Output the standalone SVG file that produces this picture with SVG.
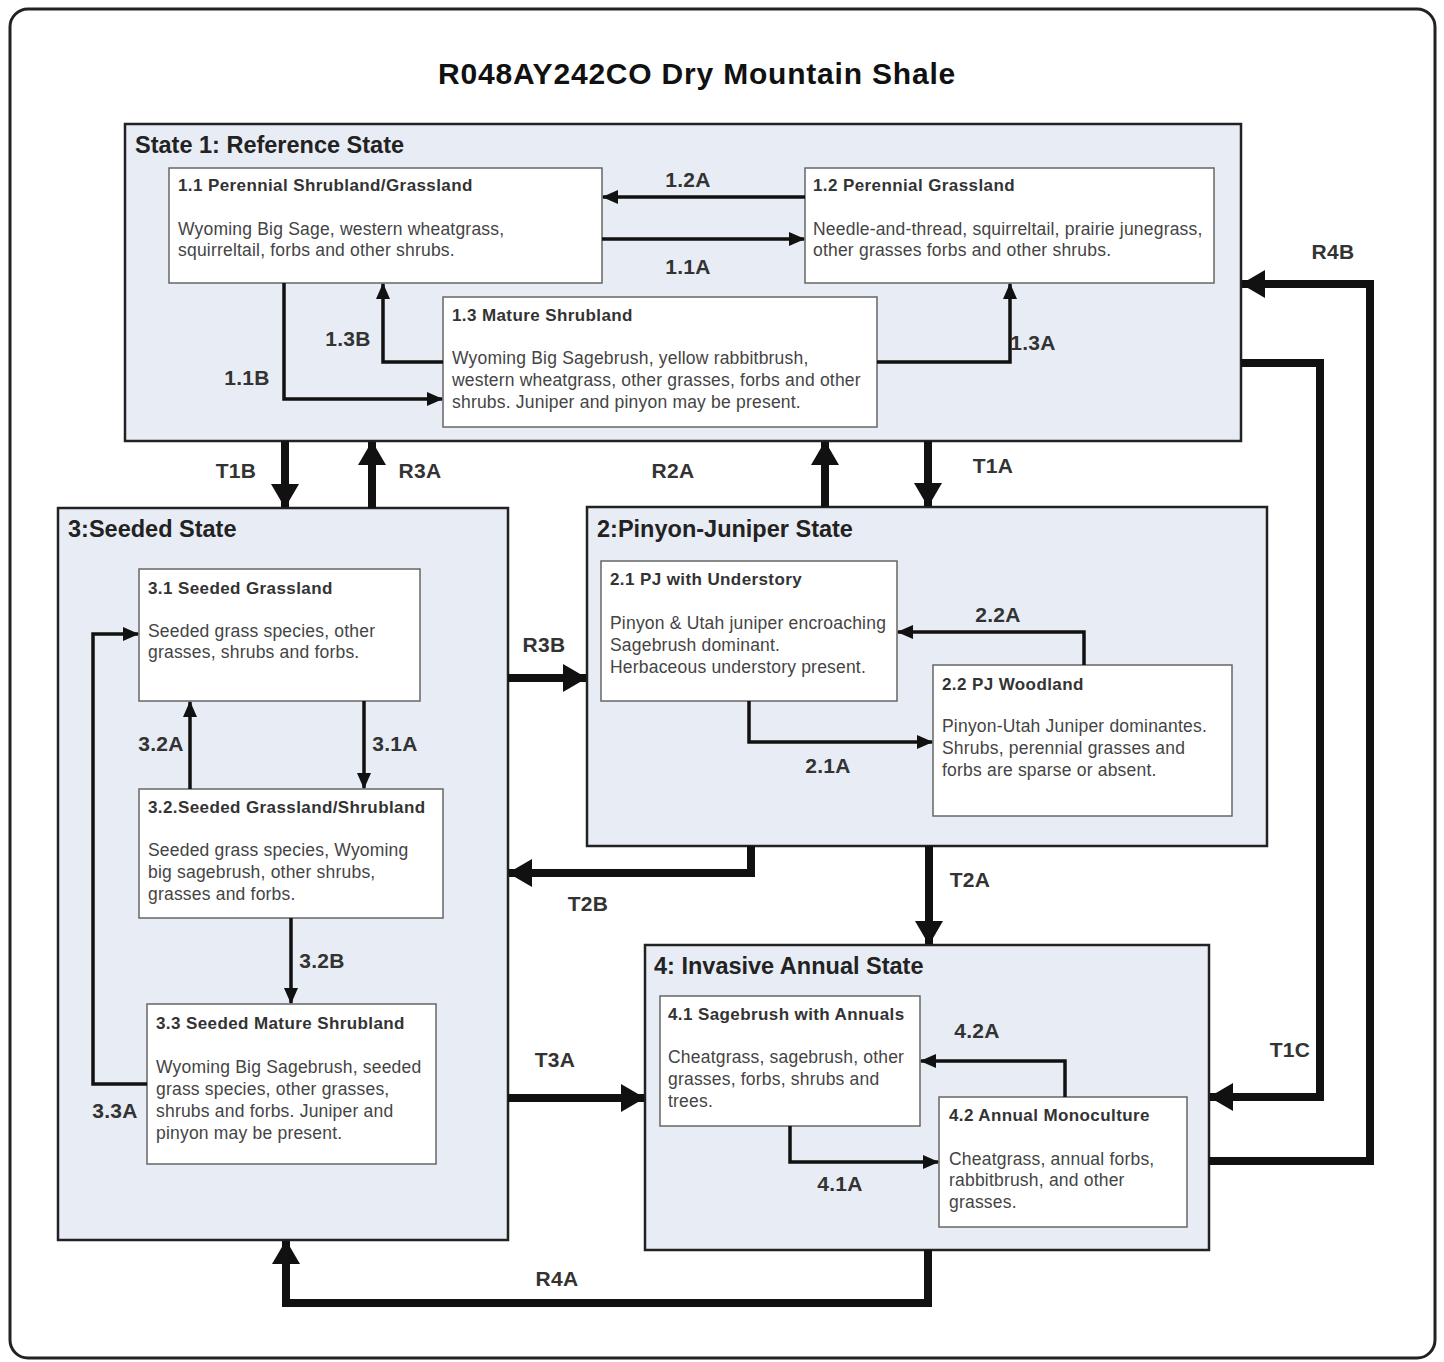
<svg xmlns="http://www.w3.org/2000/svg" width="1444" height="1362" viewBox="0 0 1444 1362">
<defs>
<marker id="ah" viewBox="0 0 16 14" refX="15" refY="7" markerWidth="16" markerHeight="14" markerUnits="userSpaceOnUse" orient="auto"><path d="M0,0 L16,7 L0,14 Z" fill="#111"/></marker>
<marker id="ahb" viewBox="0 0 24 28" refX="23" refY="14" markerWidth="24" markerHeight="28" markerUnits="userSpaceOnUse" orient="auto"><path d="M0,0 L24,14 L0,28 Z" fill="#111"/></marker>
</defs>
<style>
.title{font-family:"Liberation Sans",Arial,sans-serif;font-weight:bold;font-size:30px;letter-spacing:0.8px;fill:#111}
.st{fill:#e8ecf4;stroke:#222;stroke-width:2.5}
.stt{font-family:"Liberation Sans",Arial,sans-serif;font-weight:bold;font-size:23.5px;fill:#222}
.nb{fill:#fff;stroke:#666;stroke-width:1.5}
.nt{font-family:"Liberation Sans",Arial,sans-serif;font-weight:bold;font-size:17px;letter-spacing:0.4px;fill:#333}
.bt{font-family:"Liberation Sans",Arial,sans-serif;font-size:17.5px;letter-spacing:0.2px;fill:#444}
.lb{font-family:"Liberation Sans",Arial,sans-serif;font-weight:bold;font-size:21px;letter-spacing:0.3px;fill:#333;text-anchor:middle}
.c{fill:none;stroke:#111;stroke-width:3.5;marker-end:url(#ah)}
.cb{fill:none;stroke:#111;stroke-width:8;marker-end:url(#ahb)}
</style>
<rect x="0" y="0" width="1444" height="1362" fill="#fff"/>
<rect x="10" y="9" width="1425" height="1349" rx="18" fill="#fff" stroke="#222" stroke-width="3"/>
<text class="title" x="697" y="84" text-anchor="middle">R048AY242CO Dry Mountain Shale</text>

<g id="state1">
<rect class="st" x="125" y="124" width="1116" height="317"/>
<text class="stt" x="135" y="153">State 1: Reference State</text>
</g>
<g id="state3">
<rect class="st" x="58" y="508" width="450" height="732"/>
<text class="stt" x="68" y="537">3:Seeded State</text>
</g>
<g id="state2">
<rect class="st" x="587" y="507" width="680" height="339"/>
<text class="stt" x="597" y="537">2:Pinyon-Juniper State</text>
</g>
<g id="state4">
<rect class="st" x="645" y="945" width="564" height="305"/>
<text class="stt" x="654" y="974">4: Invasive Annual State</text>
</g>

<g id="n11">
<rect class="nb" x="169" y="168" width="433" height="115"/>
<text class="nt" x="178" y="191">1.1 Perennial Shrubland/Grassland</text>
<text class="bt" x="178" y="235">Wyoming Big Sage, western wheatgrass,</text>
<text class="bt" x="178" y="256">squirreltail, forbs and other  shrubs.</text>
</g>
<g id="n12">
<rect class="nb" x="805" y="168" width="409" height="115"/>
<text class="nt" x="813" y="191">1.2 Perennial Grassland</text>
<text class="bt" x="813" y="235">Needle-and-thread, squirreltail, prairie junegrass,</text>
<text class="bt" x="813" y="256">other grasses forbs and other  shrubs.</text>
</g>
<g id="n13">
<rect class="nb" x="443" y="297" width="434" height="130"/>
<text class="nt" x="452" y="321">1.3 Mature Shrubland</text>
<text class="bt" x="452" y="364">Wyoming Big Sagebrush, yellow rabbitbrush,</text>
<text class="bt" x="452" y="386">western wheatgrass, other grasses, forbs and other</text>
<text class="bt" x="452" y="408">shrubs. Juniper and pinyon may be present.</text>
</g>

<g id="n31">
<rect class="nb" x="139" y="569" width="281" height="132"/>
<text class="nt" x="148" y="594">3.1 Seeded Grassland</text>
<text class="bt" x="148" y="637">Seeded grass species, other</text>
<text class="bt" x="148" y="658">grasses, shrubs and forbs.</text>
</g>
<g id="n32">
<rect class="nb" x="139" y="789" width="304" height="129"/>
<text class="nt" x="148" y="813">3.2.Seeded Grassland/Shrubland</text>
<text class="bt" x="148" y="856">Seeded grass species, Wyoming</text>
<text class="bt" x="148" y="878">big sagebrush, other shrubs,</text>
<text class="bt" x="148" y="900">grasses and forbs.</text>
</g>
<g id="n33">
<rect class="nb" x="147" y="1004" width="289" height="160"/>
<text class="nt" x="156" y="1029">3.3 Seeded Mature Shrubland</text>
<text class="bt" x="156" y="1073">Wyoming Big Sagebrush, seeded</text>
<text class="bt" x="156" y="1095">grass species, other grasses,</text>
<text class="bt" x="156" y="1117">shrubs and forbs.  Juniper and</text>
<text class="bt" x="156" y="1139">pinyon may be present.</text>
</g>

<g id="n21">
<rect class="nb" x="601" y="561" width="296" height="140"/>
<text class="nt" x="610" y="585">2.1 PJ with Understory</text>
<text class="bt" x="610" y="629">Pinyon &amp; Utah juniper encroaching</text>
<text class="bt" x="610" y="651">Sagebrush dominant.</text>
<text class="bt" x="610" y="673">Herbaceous understory  present.</text>
</g>
<g id="n22">
<rect class="nb" x="933" y="665" width="299" height="151"/>
<text class="nt" x="942" y="690">2.2 PJ Woodland</text>
<text class="bt" x="942" y="732">Pinyon-Utah Juniper dominantes.</text>
<text class="bt" x="942" y="754">Shrubs, perennial grasses and</text>
<text class="bt" x="942" y="776">forbs are sparse or absent.</text>
</g>

<g id="n41">
<rect class="nb" x="660" y="996" width="260" height="130"/>
<text class="nt" x="668" y="1020">4.1 Sagebrush with Annuals</text>
<text class="bt" x="668" y="1063">Cheatgrass, sagebrush, other</text>
<text class="bt" x="668" y="1085">grasses, forbs, shrubs and</text>
<text class="bt" x="668" y="1107">trees.</text>
</g>
<g id="n42">
<rect class="nb" x="939" y="1097" width="248" height="130"/>
<text class="nt" x="949" y="1121">4.2 Annual Monoculture</text>
<text class="bt" x="949" y="1165">Cheatgrass, annual forbs,</text>
<text class="bt" x="949" y="1186">rabbitbrush, and other</text>
<text class="bt" x="949" y="1208">grasses.</text>
</g>

<g id="connectors">
<path class="c" d="M805,197 H603"/>
<path class="c" d="M602,239 H804"/>
<path class="c" d="M443,362 H383 V284"/>
<path class="c" d="M284,283 V399 H442"/>
<path class="c" d="M877,362 H1010 V284"/>
<path class="c" d="M364,701 V788"/>
<path class="c" d="M190,789 V702"/>
<path class="c" d="M291,918 V1003"/>
<path class="c" d="M147,1084 H93 V634 H138"/>
<path class="c" d="M1084,665 V632 H898"/>
<path class="c" d="M749,701 V742 H932"/>
<path class="c" d="M1065,1097 V1061 H921"/>
<path class="c" d="M790,1126 V1162 H938"/>

<path class="cb" d="M285,441 V507"/>
<path class="cb" d="M372,508 V442"/>
<path class="cb" d="M825,507 V442"/>
<path class="cb" d="M928,441 V506"/>
<path class="cb" d="M508,678 H586"/>
<path class="cb" d="M751,846 V873 H509"/>
<path class="cb" d="M929,846 V944"/>
<path class="cb" d="M508,1098 H644"/>
<path class="cb" d="M928,1250 V1303 H286 V1241"/>
<path class="cb" d="M1209,1161 H1370 V284 H1242"/>
<path class="cb" d="M1241,363 H1320 V1097 H1210"/>

<text class="lb" x="688" y="187">1.2A</text>
<text class="lb" x="688" y="274">1.1A</text>
<text class="lb" x="348" y="346">1.3B</text>
<text class="lb" x="247" y="385">1.1B</text>
<text class="lb" x="1033" y="350">1.3A</text>
<text class="lb" x="395" y="751">3.1A</text>
<text class="lb" x="161" y="751">3.2A</text>
<text class="lb" x="322" y="968">3.2B</text>
<text class="lb" x="115" y="1118">3.3A</text>
<text class="lb" x="998" y="622">2.2A</text>
<text class="lb" x="828" y="773">2.1A</text>
<text class="lb" x="977" y="1038">4.2A</text>
<text class="lb" x="840" y="1191">4.1A</text>
<text class="lb" x="236" y="478">T1B</text>
<text class="lb" x="420" y="478">R3A</text>
<text class="lb" x="673" y="478">R2A</text>
<text class="lb" x="993" y="473">T1A</text>
<text class="lb" x="544" y="652">R3B</text>
<text class="lb" x="588" y="911">T2B</text>
<text class="lb" x="970" y="887">T2A</text>
<text class="lb" x="555" y="1067">T3A</text>
<text class="lb" x="557" y="1286">R4A</text>
<text class="lb" x="1333" y="259">R4B</text>
<text class="lb" x="1290" y="1057">T1C</text>
</g>
</svg>
